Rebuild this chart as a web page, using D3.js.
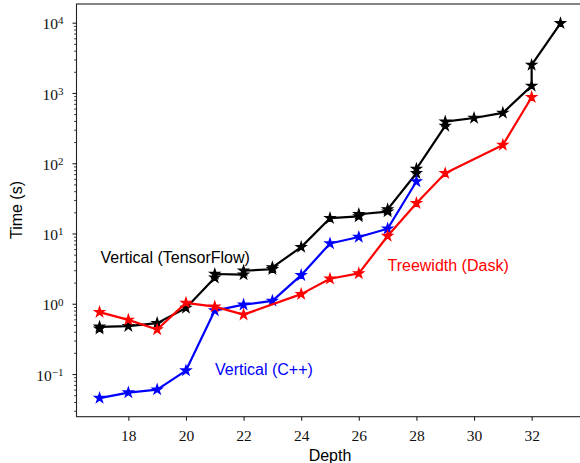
<!DOCTYPE html>
<html>
<head>
<meta charset="utf-8">
<script src="https://cdn.jsdelivr.net/npm/d3@7"></script>
<style>
  body { margin: 0; background: #fff; }
  svg { display: block; }
</style>
</head>
<body>
<div id="chart"></div>
<script>
// Vertical (TensorFlow): several depths were run twice
const tfDepth = [17, 17, 18, 19, 20, 21, 21, 22, 22, 23, 23, 24, 25, 26, 26, 27, 27, 28, 28, 29, 29, 30, 31, 32, 32, 33];
const tfTime  = [0.44, 0.47, 0.48, 0.53, 0.87, 2.35, 2.65, 2.6, 2.95, 3.1, 3.3, 6.4, 16.5, 17.5, 18.8, 20.5, 22, 72, 83, 340, 390, 440, 520, 1260, 2500, 9800];

const cppDepth = [17, 18, 19, 20, 21, 22, 23, 24, 25, 26, 27, 28];
const cppTime  = [0.0455, 0.0545, 0.06, 0.112, 0.8, 0.97, 1.1, 2.55, 7.2, 8.9, 11.7, 55];

const daskDepth = [17, 18, 19, 20, 21, 22, 24, 25, 26, 27, 28, 29, 31, 32];
const daskTime  = [0.76, 0.59, 0.43, 1.03, 0.91, 0.7, 1.37, 2.27, 2.7, 9.2, 27, 72, 182, 870];

const xTicks = [18, 20, 22, 24, 26, 28, 30, 32];
const yTicks = [-1, 0, 1, 2, 3, 4]; // exponents of 10

const width = 580,
    height = 463,
    margin = {top: 4, right: -3.5, bottom: 46.3, left: 76.5};

const svg = d3.select("#chart")
  .append("svg")
  .attr("width", width)
  .attr("height", height);

let x = d3.scaleLinear([16.2, 33.8], [margin.left, width - margin.right]);
let y = d3.scaleLog([0.0247, 18450], [height - margin.bottom, margin.top]);

const serif = "'Liberation Serif', 'DejaVu Serif', serif";
const sans = "'Liberation Sans', Arial, sans-serif";

// frame
svg.append("rect")
  .attr("x", margin.left)
  .attr("y", margin.top)
  .attr("width", width - margin.right - margin.left)
  .attr("height", height - margin.bottom - margin.top)
  .attr("fill", "none")
  .attr("stroke", "#222")
  .attr("stroke-width", 1.1);

// x axis
const gx = svg.append("g")
  .attr("transform", `translate(0,${height - margin.bottom})`)
  .call(d3.axisBottom(x).tickValues(xTicks).tickSize(4).tickPadding(9));
gx.select(".domain").remove();
gx.selectAll("line").attr("stroke", "#222").attr("stroke-width", 1.1);
gx.selectAll("text")
  .attr("font-family", serif)
  .attr("font-size", 15.5)
  .attr("fill", "#111");

// y axis minor ticks
const minors = y.ticks().filter(v => Math.abs(Math.log10(v) - Math.round(Math.log10(v))) > 1e-6);
const gyMinor = svg.append("g")
  .attr("transform", `translate(${margin.left},0)`)
  .call(d3.axisLeft(y).tickValues(minors).tickSize(2.4).tickFormat(""));
gyMinor.select(".domain").remove();
gyMinor.selectAll("line").attr("stroke", "#222").attr("stroke-width", 0.9);

// y axis major ticks
const gy = svg.append("g")
  .attr("transform", `translate(${margin.left},0)`)
  .call(d3.axisLeft(y).tickValues(yTicks.map(e => Math.pow(10, e))).tickSize(4).tickPadding(9).tickFormat(""));
gy.select(".domain").remove();
gy.selectAll("line").attr("stroke", "#222").attr("stroke-width", 1.1);
gy.selectAll(".tick text").each(function(d) {
  const t = d3.select(this)
    .attr("font-family", serif)
    .attr("font-size", 15.5)
    .attr("fill", "#111")
    .attr("dy", "0.4em");
  const e = Math.round(Math.log10(d));
  t.append("tspan").text("10");
  t.append("tspan")
    .attr("dy", "-0.45em")
    .attr("font-size", 11)
    .text(e < 0 ? "\u2212" + (-e) : e);
});

// axis labels
svg.append("text")
  .attr("x", (margin.left + width - margin.right) / 2)
  .attr("y", 461)
  .attr("text-anchor", "middle")
  .attr("font-family", sans)
  .attr("font-size", 16)
  .text("Depth");

svg.append("text")
  .attr("transform", `translate(22,210) rotate(-90)`)
  .attr("text-anchor", "middle")
  .attr("font-family", sans)
  .attr("font-size", 16)
  .text("Time (s)");

// series
const series = [
  {name: "Vertical (TensorFlow)", color: "#000000", depth: tfDepth, time: tfTime},
  {name: "Vertical (C++)", color: "#0000ff", depth: cppDepth, time: cppTime},
  {name: "Treewidth (Dask)", color: "#ff0000", depth: daskDepth, time: daskTime}
];

const line = d3.line()
  .x(d => x(d[0]))
  .y(d => y(d[1]));

const star = d3.symbol().type(d3.symbolStar).size(30);

series.forEach(s => {
  const pts = s.depth.map((d, i) => [d, s.time[i]]);
  svg.append("path")
    .datum(pts)
    .attr("d", line)
    .attr("fill", "none")
    .attr("stroke", s.color)
    .attr("stroke-width", 2.2)
    .attr("stroke-linejoin", "round");
  svg.append("g")
    .selectAll("path")
    .data(pts)
    .join("path")
    .attr("transform", d => `translate(${x(d[0])},${y(d[1])})`)
    .attr("d", star)
    .attr("fill", s.color)
    .attr("stroke", s.color)
    .attr("stroke-width", 1.2)
    .attr("stroke-linejoin", "miter");
});

// annotations
const notes = [
  {text: "Vertical (TensorFlow)", color: "#000000", x: 100.5, y: 262.5},
  {text: "Vertical (C++)", color: "#0000ff", x: 215, y: 375},
  {text: "Treewidth (Dask)", color: "#ff0000", x: 387.5, y: 271}
];

svg.selectAll(".note")
  .data(notes)
  .join("text")
  .attr("class", "note")
  .attr("x", d => d.x)
  .attr("y", d => d.y)
  .attr("fill", d => d.color)
  .attr("font-family", sans)
  .attr("font-size", 16)
  .text(d => d.text);
</script>
</body>
</html>
